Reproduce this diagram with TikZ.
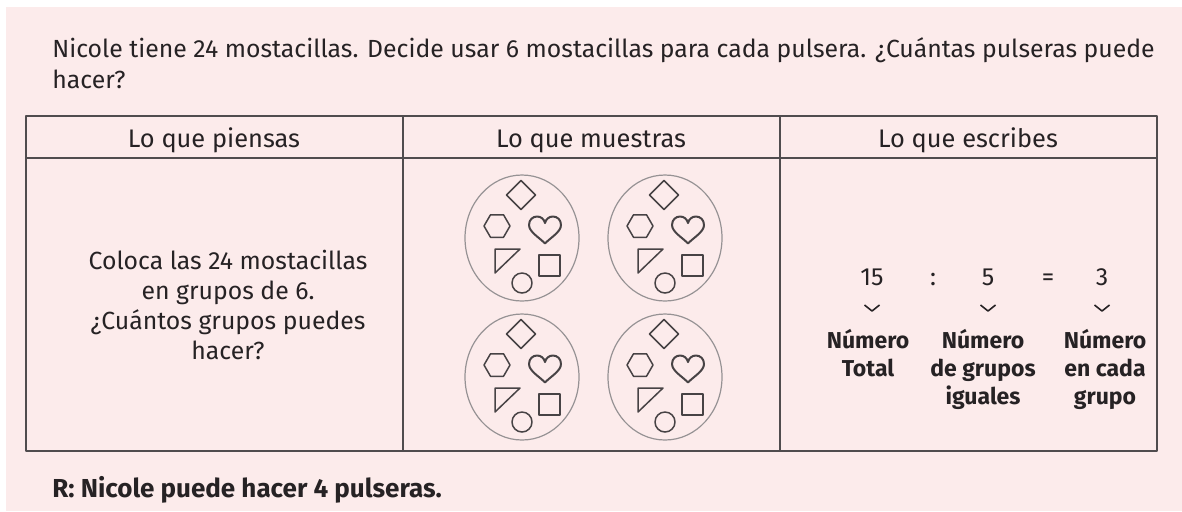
\documentclass[tikz,border=0pt]{standalone}
\usepackage{fontspec}
\setmainfont{Fira Sans}
\definecolor{fondo}{RGB}{252,235,235}
\definecolor{tinta}{RGB}{38,34,36}
\definecolor{borde}{RGB}{80,76,78}
\definecolor{gris}{RGB}{150,146,148}
\begin{document}
\begin{tikzpicture}[x=0.5pt,y=-0.5pt,line join=round,
        texto/.style={text=tinta,inner sep=0pt,font=\fontsize{12.4}{15}\selectfont},
        negrita/.style={texto,font=\fontsize{11.5}{14}\selectfont\bfseries,align=center},
        figura/.style={draw=tinta!85,line width=0.75pt},
        aro/.style={draw=gris,line width=0.6pt}]
        % page and background
        \useasboundingbox (0,0) rectangle (1182,511);
        \fill[white] (0,0) rectangle (1182,511);
        \fill[fondo] (6,7) rectangle (1182,511);

        % statement
        \node[texto,anchor=base west] (enunciado) at (52,57)
            {Nicole tiene 24 mostacillas. Decide usar 6 mostacillas para cada pulsera. ¿Cuántas pulseras puede};
        \node[texto,anchor=base west] (enunciado2) at (52,88) {hacer?};

        % the table
        \draw[borde,line width=1.1pt] (26,116) rectangle (1157,451);
        \draw[borde,line width=0.9pt] (26,158) -- (1157,158);
        \foreach \x in {403,780}
                \draw[borde,line width=0.9pt] (\x,116) -- (\x,451);

        \node[texto,font=\fontsize{12.7}{15}\selectfont,anchor=base] (piensas) at (214,147) {Lo que piensas};
        \node[texto,font=\fontsize{12.7}{15}\selectfont,anchor=base] (muestras) at (591,147) {Lo que muestras};
        \node[texto,font=\fontsize{12.7}{15}\selectfont,anchor=base] (escribes) at (968,147) {Lo que escribes};

        % what you think
        \node[texto,align=center] (coloca) at (228,305)
            {Coloca las 24 mostacillas\\en grupos de 6.\\¿Cuántos grupos puedes\\hacer?};

        % what you show: four groups of six beads
        \foreach \cx/\cy in {522/238,665/238,522/377,665/377} {
            \begin{scope}[shift={(\cx,\cy)}]
                \draw[aro] (0,0) ellipse [x radius=57, y radius=63];
                % diamond
                \draw[figura] (-1,-57.5) -- (13.5,-43) -- (-1,-28.5) -- (-15.5,-43) -- cycle;
                % hexagon
                \draw[figura,shift={(-25,-12)}] (0:13) -- (60:13) -- (120:13) -- (180:13) -- (240:13) -- (300:13) -- cycle;
                % heart
                \draw[figura,line width=1pt,shift={(23,-8)}] (0,13.5)
                    .. controls (-5,8) and (-16,2) .. (-16,-5)
                    .. controls (-16,-10.5) and (-12,-13.5) .. (-8,-13.5)
                    .. controls (-4,-13.5) and (-1,-11) .. (0,-7)
                    .. controls (1,-11) and (4,-13.5) .. (8,-13.5)
                    .. controls (12,-13.5) and (16,-10.5) .. (16,-5)
                    .. controls (16,2) and (5,8) .. (0,13.5) -- cycle;
                % triangle, square and circle
                \draw[figura] (-27,11) -- (-2,11) -- (-27,35) -- cycle;
                \draw[figura] (17,17) rectangle (38,38);
                \draw[figura] (0,45) circle [radius=10];
            \end{scope}
        }

        % what you write
        \foreach \x/\xtext/\nombre in {872/15/total, 933/:/dos, 988/5/grupos, 1048/=/igual, 1102/3/cada}
                \node[texto,anchor=base] (\nombre) at (\x,285) {\xtext};
        \foreach \x in {872,988,1102}
                \draw[tinta,line width=0.8pt] (\x-7.5,305) -- (\x,311) -- (\x+7.5,305);

        \node[negrita,anchor=north] (rtotal) at (868,329) {Número\\Total};
        \node[negrita,anchor=north] (rgrupos) at (983,329) {Número\\de grupos\\iguales};
        \node[negrita,anchor=north] (rcada) at (1105,329) {Número\\en cada\\grupo};

        % answer
        \node[texto,font=\fontsize{13}{15}\selectfont\bfseries,anchor=base west] (respuesta) at (52,497)
            {R: Nicole puede hacer 4 pulseras.};
\end{tikzpicture}
\end{document}
